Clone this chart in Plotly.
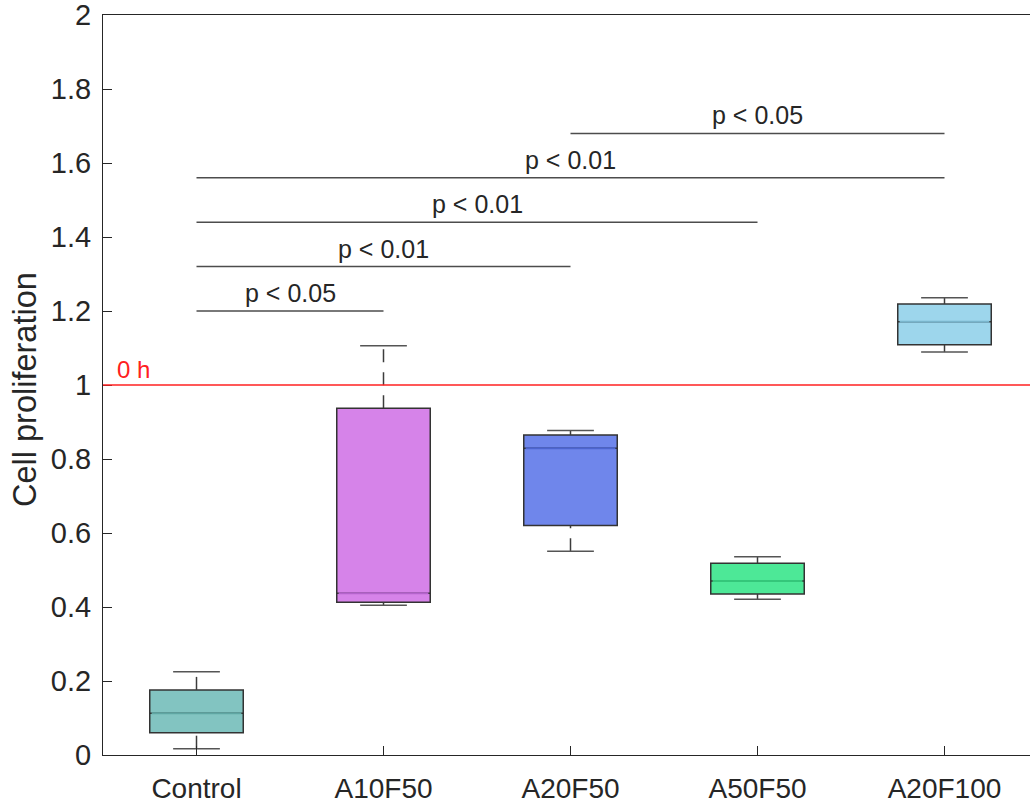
import plotly.graph_objects as go

# ---- data ----
groups = ["Control", "A10F50", "A20F50", "A50F50", "A20F100"]
lower_adj = [0.017, 0.405, 0.551, 0.421, 1.089]
q1_vals = [0.060, 0.413, 0.620, 0.435, 1.109]
median_vals = [0.113, 0.437, 0.829, 0.470, 1.171]
q3_vals = [0.176, 0.937, 0.865, 0.518, 1.219]
upper_adj = [0.225, 1.106, 0.877, 0.536, 1.236]

fill_colors = ["#82C4C1", "#D683E9", "#6F86EB", "#4DE897", "#9DD6EC"]
median_colors = ["#5FA6A3", "#B463CC", "#4C64CF", "#34C77A", "#79B5CC"]

sig_from = ["Control", "Control", "Control", "Control", "A20F50"]
sig_to = ["A10F50", "A20F50", "A50F50", "A20F100", "A20F100"]
sig_y = [1.20, 1.32, 1.44, 1.56, 1.68]
sig_text = ["p < 0.05", "p < 0.01", "p < 0.01", "p < 0.01", "p < 0.05"]

ref_value = 1.0
ref_label = "0 h"
y_title = "Cell proliferation"
y_ticks = [0, 0.2, 0.4, 0.6, 0.8, 1.0, 1.2, 1.4, 1.6, 1.8, 2.0]

FONT = "Liberation Sans, Arial, sans-serif"
TXT = "#262626"
EDGE = "#333333"
WHISK = "#3c3c3c"

pos = {g: i + 1 for i, g in enumerate(groups)}
box_w = 0.5
cap_w = 0.25

fig = go.Figure()

# boxes
for i, g in enumerate(groups):
    fig.add_trace(go.Box(
        x=[pos[g]], q1=[q1_vals[i]], median=[median_vals[i]], q3=[q3_vals[i]],
        lowerfence=[q1_vals[i]], upperfence=[q3_vals[i]],
        width=box_w, whiskerwidth=0, fillcolor=fill_colors[i],
        line=dict(color=EDGE, width=1.5), boxpoints=False,
        showlegend=False, hoverinfo="skip"))

# medians, whiskers, caps
for i, g in enumerate(groups):
    c = pos[g]
    fig.add_trace(go.Scatter(
        x=[c - box_w / 2 + 0.01, c + box_w / 2 - 0.01], y=[median_vals[i]] * 2,
        mode="lines", line=dict(color=median_colors[i], width=2),
        showlegend=False, hoverinfo="skip"))
    for y0, y1 in [(q3_vals[i], upper_adj[i]), (lower_adj[i], q1_vals[i])]:
        fig.add_trace(go.Scatter(
            x=[c, c], y=[y0, y1], mode="lines",
            line=dict(color=WHISK, width=1.5, dash="13px,10px"),
            showlegend=False, hoverinfo="skip"))
    for yv in [upper_adj[i], lower_adj[i]]:
        fig.add_trace(go.Scatter(
            x=[c - cap_w / 2, c + cap_w / 2], y=[yv, yv], mode="lines",
            line=dict(color="#555555", width=1.5),
            showlegend=False, hoverinfo="skip"))

# significance bars
for a, b, yv, t in zip(sig_from, sig_to, sig_y, sig_text):
    fig.add_trace(go.Scatter(
        x=[pos[a], pos[b]], y=[yv, yv], mode="lines",
        line=dict(color="#4d4d4d", width=1.5),
        showlegend=False, hoverinfo="skip"))
    fig.add_annotation(
        x=(pos[a] + pos[b]) / 2, y=yv, xref="x", yref="y",
        text=t, showarrow=False, yanchor="bottom", xanchor="center",
        yshift=2, font=dict(family=FONT, size=25, color=TXT))

# reference line
fig.add_shape(type="line", xref="paper", yref="y", x0=0, x1=1,
              y0=ref_value, y1=ref_value,
              line=dict(color="#FF2020", width=1.5))
fig.add_annotation(x=0.565, y=ref_value, xref="x", yref="y", text=ref_label,
                   showarrow=False, xanchor="left", yanchor="bottom", yshift=0,
                   font=dict(family=FONT, size=24, color="#FF2020"))

# y-axis title
fig.add_annotation(x=0, y=0.5, xref="paper", yref="paper", text=y_title,
                   showarrow=False, textangle=-90, xanchor="center",
                   yanchor="middle", xshift=-78, yshift=-5,
                   font=dict(family=FONT, size=32.5, color=TXT))

W, H = 1030, 805
L, T, B = 103, 15, 50
plot_w = W - L
fig.update_layout(
    width=W, height=H,
    margin=dict(l=L, r=0, t=T, b=B, autoexpand=False),
    paper_bgcolor="white", plot_bgcolor="white",
    font=dict(family=FONT, color=TXT, size=25),
    xaxis=dict(range=[0.5, 0.5 + plot_w / 187.0], automargin=False,
               tickvals=[pos[g] for g in groups], ticktext=groups,
               ticks="inside", ticklen=9, tickcolor=TXT, tickwidth=1,
               ticklabelstandoff=8, ticklabeloverflow="allow",
               showline=True, linecolor=TXT, linewidth=1, mirror=True,
               showgrid=False, zeroline=False,
               tickfont=dict(family=FONT, size=28, color=TXT)),
    yaxis=dict(range=[0, 2], tickvals=y_ticks, automargin=False,
               ticktext=[f"{v:g}" for v in y_ticks],
               ticks="inside", ticklen=9, tickcolor=TXT, tickwidth=1,
               ticklabelstandoff=5, ticklabeloverflow="allow",
               showline=True, linecolor=TXT, linewidth=1, mirror=False,
               showgrid=False, zeroline=False,
               tickfont=dict(family=FONT, size=29, color=TXT)),
)

fig.write_html("out.html",
               config={"displayModeBar": False},
               post_script="document.body.style.margin='0';"
                           "document.body.style.overflow='hidden';")
